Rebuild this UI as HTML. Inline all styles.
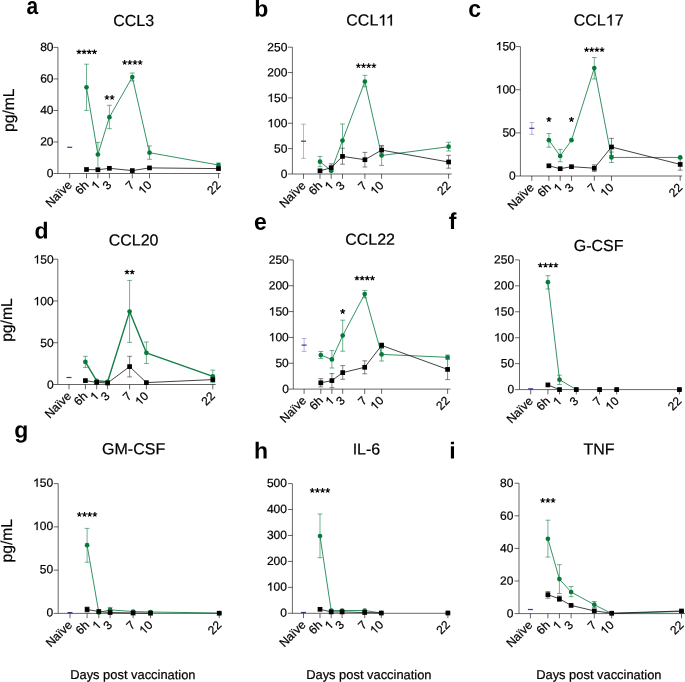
<!DOCTYPE html>
<html><head><meta charset="utf-8"><style>
html,body{margin:0;padding:0;background:#fff;width:685px;height:682px;overflow:hidden}
svg{display:block;font-family:"Liberation Sans",sans-serif;will-change:transform}
text{stroke:#000;stroke-width:0.22px;paint-order:stroke}
text[font-weight]{stroke:none}
.g1{fill:#000;stroke:#000;stroke-width:0.22px}
</style></head><body>
<svg width="685" height="682" viewBox="0 0 685 682">
<rect width="685" height="682" fill="#fff"/>
<line x1="67.20" y1="147.3" x2="72.20" y2="147.3" stroke="#3a3a96" stroke-width="1.2"/>
<path d="M84.10,64.2H88.90M86.5,64.2V110.4M84.10,110.4H88.90" stroke="#127e48" stroke-width="0.6" fill="none"/>
<path d="M95.50,142.4H100.30M97.9,142.4V169.0M95.50,169.0H100.30" stroke="#127e48" stroke-width="0.6" fill="none"/>
<path d="M107.00,105.3H111.80M109.4,105.3V128.7M107.00,128.7H111.80" stroke="#127e48" stroke-width="0.6" fill="none"/>
<path d="M129.90,73.0H134.70M132.3,73.0V80.9M129.90,80.9H134.70" stroke="#127e48" stroke-width="0.6" fill="none"/>
<path d="M147.10,145.9H151.90M149.5,145.9V159.3M147.10,159.3H151.90" stroke="#127e48" stroke-width="0.6" fill="none"/>
<path d="M216.10,163H220.90M218.5,163V167M216.10,167H220.90" stroke="#127e48" stroke-width="0.6" fill="none"/>
<path d="M86.5,87.3L97.9,154.5L109.4,117.2L132.3,77.1L149.5,152.7L218.5,165.0" fill="none" stroke="#127e48" stroke-width="0.85" stroke-linejoin="round"/>
<path d="M86.5,169.5L97.9,169.8L109.4,168.3L132.3,170.6L149.5,167.9L218.5,168.6" fill="none" stroke="#111" stroke-width="0.8" stroke-linejoin="round"/>
<line x1="57.95" y1="47.4" x2="57.95" y2="173.5" stroke="#000" stroke-width="0.6"/>
<line x1="57.95" y1="173.5" x2="220.4" y2="173.5" stroke="#000" stroke-width="0.6"/>
<line x1="53.45" y1="173.5" x2="57.95" y2="173.5" stroke="#000" stroke-width="0.6"/>
<g transform="translate(46.825,177.150) rotate(0.05)"><text x="0.000" y="0" font-size="12">0</text></g>
<line x1="53.45" y1="141.97" x2="57.95" y2="141.97" stroke="#000" stroke-width="0.6"/>
<g transform="translate(40.151,145.620) rotate(0.05)"><text x="0.000" y="0" font-size="12">20</text></g>
<line x1="53.45" y1="110.45" x2="57.95" y2="110.45" stroke="#000" stroke-width="0.6"/>
<g transform="translate(40.151,114.100) rotate(0.05)"><text x="0.000" y="0" font-size="12">40</text></g>
<line x1="53.45" y1="78.93" x2="57.95" y2="78.93" stroke="#000" stroke-width="0.6"/>
<g transform="translate(40.151,82.580) rotate(0.05)"><text x="0.000" y="0" font-size="12">60</text></g>
<line x1="53.45" y1="47.4" x2="57.95" y2="47.4" stroke="#000" stroke-width="0.6"/>
<g transform="translate(40.151,51.050) rotate(0.05)"><text x="0.000" y="0" font-size="12">80</text></g>
<line x1="69.7" y1="173.5" x2="69.7" y2="178.30" stroke="#000" stroke-width="0.6"/>
<g transform="translate(72.600,185.800) rotate(-45)"><text x="-31.348" y="0" font-size="12">Naïve</text></g>
<line x1="86.5" y1="173.5" x2="86.5" y2="178.30" stroke="#000" stroke-width="0.6"/>
<g transform="translate(89.400,185.800) rotate(-45)"><text x="-13.348" y="0" font-size="12">6h</text></g>
<line x1="97.9" y1="173.5" x2="97.9" y2="178.30" stroke="#000" stroke-width="0.6"/>
<g transform="translate(100.800,185.800) rotate(-45)"><path class="g1" d="M-2.203,0.000L-3.258,0.000L-3.258,-6.621C-3.627,-6.270 -4.213,-5.906 -4.740,-5.637C-5.033,-5.490 -5.268,-5.391 -5.473,-5.320L-5.473,-6.328C-4.916,-6.551 -4.418,-6.867 -3.979,-7.254C-3.539,-7.641 -3.217,-7.969 -3.012,-8.256L-2.203,-8.256Z"/></g>
<line x1="109.4" y1="173.5" x2="109.4" y2="178.30" stroke="#000" stroke-width="0.6"/>
<g transform="translate(112.300,185.800) rotate(-45)"><text x="-6.674" y="0" font-size="12">3</text></g>
<line x1="132.3" y1="173.5" x2="132.3" y2="178.30" stroke="#000" stroke-width="0.6"/>
<g transform="translate(135.200,185.800) rotate(-45)"><text x="-6.674" y="0" font-size="12">7</text></g>
<line x1="149.5" y1="173.5" x2="149.5" y2="178.30" stroke="#000" stroke-width="0.6"/>
<g transform="translate(152.400,185.800) rotate(-45)"><path class="g1" d="M-8.877,0.000L-9.932,0.000L-9.932,-6.621C-10.301,-6.270 -10.887,-5.906 -11.414,-5.637C-11.707,-5.490 -11.941,-5.391 -12.146,-5.320L-12.146,-6.328C-11.590,-6.551 -11.092,-6.867 -10.652,-7.254C-10.213,-7.641 -9.891,-7.969 -9.686,-8.256L-8.877,-8.256Z"/><text x="-6.674" y="0" font-size="12">0</text></g>
<line x1="218.5" y1="173.5" x2="218.5" y2="178.30" stroke="#000" stroke-width="0.6"/>
<g transform="translate(221.400,185.800) rotate(-45)"><text x="-13.348" y="0" font-size="12">22</text></g>
<circle cx="86.5" cy="87.3" r="2.35" fill="#067a3a"/>
<circle cx="97.9" cy="154.5" r="2.35" fill="#067a3a"/>
<circle cx="109.4" cy="117.2" r="2.35" fill="#067a3a"/>
<circle cx="132.3" cy="77.1" r="2.35" fill="#067a3a"/>
<circle cx="149.5" cy="152.7" r="2.35" fill="#067a3a"/>
<circle cx="218.5" cy="165.0" r="2.35" fill="#067a3a"/>
<rect x="84.15" y="167.15" width="4.7" height="4.7" fill="#000"/>
<rect x="95.55" y="167.45" width="4.7" height="4.7" fill="#000"/>
<rect x="107.05" y="165.95" width="4.7" height="4.7" fill="#000"/>
<rect x="129.95" y="168.25" width="4.7" height="4.7" fill="#000"/>
<rect x="147.15" y="165.55" width="4.7" height="4.7" fill="#000"/>
<rect x="216.15" y="166.25" width="4.7" height="4.7" fill="#000"/>
<path d="M78.95,51.90L78.95,49.45M78.95,51.90L81.28,51.14M78.95,51.90L80.39,53.88M78.95,51.90L77.50,53.88M78.95,51.90L76.61,51.14" stroke="#000" stroke-width="1.12" stroke-linecap="butt" fill="none"/>
<path d="M84.12,51.90L84.12,49.45M84.12,51.90L86.45,51.14M84.12,51.90L85.56,53.88M84.12,51.90L82.67,53.88M84.12,51.90L81.78,51.14" stroke="#000" stroke-width="1.12" stroke-linecap="butt" fill="none"/>
<path d="M89.29,51.90L89.29,49.45M89.29,51.90L91.62,51.14M89.29,51.90L90.73,53.88M89.29,51.90L87.84,53.88M89.29,51.90L86.95,51.14" stroke="#000" stroke-width="1.12" stroke-linecap="butt" fill="none"/>
<path d="M94.46,51.90L94.46,49.45M94.46,51.90L96.79,51.14M94.46,51.90L95.90,53.88M94.46,51.90L93.01,53.88M94.46,51.90L92.12,51.14" stroke="#000" stroke-width="1.12" stroke-linecap="butt" fill="none"/>
<path d="M106.92,97.50L106.92,95.05M106.92,97.50L109.25,96.74M106.92,97.50L108.36,99.48M106.92,97.50L105.47,99.48M106.92,97.50L104.58,96.74" stroke="#000" stroke-width="1.12" stroke-linecap="butt" fill="none"/>
<path d="M112.09,97.50L112.09,95.05M112.09,97.50L114.42,96.74M112.09,97.50L113.53,99.48M112.09,97.50L110.64,99.48M112.09,97.50L109.75,96.74" stroke="#000" stroke-width="1.12" stroke-linecap="butt" fill="none"/>
<path d="M124.65,62.50L124.65,60.05M124.65,62.50L126.98,61.74M124.65,62.50L126.09,64.48M124.65,62.50L123.20,64.48M124.65,62.50L122.31,61.74" stroke="#000" stroke-width="1.12" stroke-linecap="butt" fill="none"/>
<path d="M129.81,62.50L129.81,60.05M129.81,62.50L132.15,61.74M129.81,62.50L131.26,64.48M129.81,62.50L128.37,64.48M129.81,62.50L127.48,61.74" stroke="#000" stroke-width="1.12" stroke-linecap="butt" fill="none"/>
<path d="M134.99,62.50L134.99,60.05M134.99,62.50L137.32,61.74M134.99,62.50L136.43,64.48M134.99,62.50L133.54,64.48M134.99,62.50L132.65,61.74" stroke="#000" stroke-width="1.12" stroke-linecap="butt" fill="none"/>
<path d="M140.16,62.50L140.16,60.05M140.16,62.50L142.49,61.74M140.16,62.50L141.60,64.48M140.16,62.50L138.71,64.48M140.16,62.50L137.82,61.74" stroke="#000" stroke-width="1.12" stroke-linecap="butt" fill="none"/>
<path d="M301.10,124.2H305.90M303.5,124.2V158.3M301.10,158.3H305.90" stroke="#6a6ab8" stroke-width="0.5" fill="none"/>
<line x1="301.00" y1="141.2" x2="306.00" y2="141.2" stroke="#3a3a96" stroke-width="1.2"/>
<path d="M317.60,156.4H322.40M320.0,156.4V166.7M317.60,166.7H322.40" stroke="#127e48" stroke-width="0.6" fill="none"/>
<path d="M340.10,124H344.90M342.5,124V157M340.10,157H344.90" stroke="#127e48" stroke-width="0.6" fill="none"/>
<path d="M362.50,75.3H367.30M364.9,75.3V86.8M362.50,86.8H367.30" stroke="#127e48" stroke-width="0.6" fill="none"/>
<path d="M379.20,145.5H384.00M381.6,145.5V165.4M379.20,165.4H384.00" stroke="#127e48" stroke-width="0.6" fill="none"/>
<path d="M446.20,142.3H451.00M448.6,142.3V151M446.20,151H451.00" stroke="#127e48" stroke-width="0.6" fill="none"/>
<path d="M320.0,161.7L331.2,170.8L342.5,140.6L364.9,81.5L381.6,155.5L448.6,146.7" fill="none" stroke="#127e48" stroke-width="0.85" stroke-linejoin="round"/>
<path d="M328.80,163.8H333.60M331.2,163.8V171.5M328.80,171.5H333.60" stroke="#333" stroke-width="0.6" fill="none"/>
<path d="M340.10,148.2H344.90M342.5,148.2V164.2M340.10,164.2H344.90" stroke="#333" stroke-width="0.6" fill="none"/>
<path d="M362.50,152.4H367.30M364.9,152.4V167M362.50,167H367.30" stroke="#333" stroke-width="0.6" fill="none"/>
<path d="M379.20,146H384.00M381.6,146V154M379.20,154H384.00" stroke="#333" stroke-width="0.6" fill="none"/>
<path d="M446.20,155.3H451.00M448.6,155.3V168.2M446.20,168.2H451.00" stroke="#333" stroke-width="0.6" fill="none"/>
<path d="M320.0,170.8L331.2,167.7L342.5,156.4L364.9,159.7L381.6,150.1L448.6,162" fill="none" stroke="#111" stroke-width="0.8" stroke-linejoin="round"/>
<line x1="292.4" y1="47.2" x2="292.4" y2="174.0" stroke="#000" stroke-width="0.6"/>
<line x1="292.4" y1="174.0" x2="451.7" y2="174.0" stroke="#000" stroke-width="0.6"/>
<line x1="287.90" y1="174.0" x2="292.4" y2="174.0" stroke="#000" stroke-width="0.6"/>
<g transform="translate(280.715,177.980) rotate(0.05)"><text x="0.000" y="0" font-size="12">0</text></g>
<line x1="287.90" y1="148.64" x2="292.4" y2="148.64" stroke="#000" stroke-width="0.6"/>
<g transform="translate(274.041,152.620) rotate(0.05)"><text x="0.000" y="0" font-size="12">50</text></g>
<line x1="287.90" y1="123.28" x2="292.4" y2="123.28" stroke="#000" stroke-width="0.6"/>
<g transform="translate(267.367,127.260) rotate(0.05)"><path class="g1" d="M4.471,0.000L3.416,0.000L3.416,-6.621C3.047,-6.270 2.461,-5.906 1.934,-5.637C1.641,-5.490 1.406,-5.391 1.201,-5.320L1.201,-6.328C1.758,-6.551 2.256,-6.867 2.695,-7.254C3.135,-7.641 3.457,-7.969 3.662,-8.256L4.471,-8.256Z"/><text x="6.674" y="0" font-size="12">00</text></g>
<line x1="287.90" y1="97.92" x2="292.4" y2="97.92" stroke="#000" stroke-width="0.6"/>
<g transform="translate(267.367,101.900) rotate(0.05)"><path class="g1" d="M4.471,0.000L3.416,0.000L3.416,-6.621C3.047,-6.270 2.461,-5.906 1.934,-5.637C1.641,-5.490 1.406,-5.391 1.201,-5.320L1.201,-6.328C1.758,-6.551 2.256,-6.867 2.695,-7.254C3.135,-7.641 3.457,-7.969 3.662,-8.256L4.471,-8.256Z"/><text x="6.674" y="0" font-size="12">50</text></g>
<line x1="287.90" y1="72.56" x2="292.4" y2="72.56" stroke="#000" stroke-width="0.6"/>
<g transform="translate(267.367,76.540) rotate(0.05)"><text x="0.000" y="0" font-size="12">200</text></g>
<line x1="287.90" y1="47.2" x2="292.4" y2="47.2" stroke="#000" stroke-width="0.6"/>
<g transform="translate(267.367,51.180) rotate(0.05)"><text x="0.000" y="0" font-size="12">250</text></g>
<line x1="303.5" y1="174.0" x2="303.5" y2="178.80" stroke="#000" stroke-width="0.6"/>
<g transform="translate(306.400,186.300) rotate(-45)"><text x="-31.348" y="0" font-size="12">Naïve</text></g>
<line x1="320.0" y1="174.0" x2="320.0" y2="178.80" stroke="#000" stroke-width="0.6"/>
<g transform="translate(322.900,186.300) rotate(-45)"><text x="-13.348" y="0" font-size="12">6h</text></g>
<line x1="331.2" y1="174.0" x2="331.2" y2="178.80" stroke="#000" stroke-width="0.6"/>
<g transform="translate(334.100,186.300) rotate(-45)"><path class="g1" d="M-2.203,0.000L-3.258,0.000L-3.258,-6.621C-3.627,-6.270 -4.213,-5.906 -4.740,-5.637C-5.033,-5.490 -5.268,-5.391 -5.473,-5.320L-5.473,-6.328C-4.916,-6.551 -4.418,-6.867 -3.979,-7.254C-3.539,-7.641 -3.217,-7.969 -3.012,-8.256L-2.203,-8.256Z"/></g>
<line x1="342.5" y1="174.0" x2="342.5" y2="178.80" stroke="#000" stroke-width="0.6"/>
<g transform="translate(345.400,186.300) rotate(-45)"><text x="-6.674" y="0" font-size="12">3</text></g>
<line x1="364.9" y1="174.0" x2="364.9" y2="178.80" stroke="#000" stroke-width="0.6"/>
<g transform="translate(367.800,186.300) rotate(-45)"><text x="-6.674" y="0" font-size="12">7</text></g>
<line x1="381.6" y1="174.0" x2="381.6" y2="178.80" stroke="#000" stroke-width="0.6"/>
<g transform="translate(384.500,186.300) rotate(-45)"><path class="g1" d="M-8.877,0.000L-9.932,0.000L-9.932,-6.621C-10.301,-6.270 -10.887,-5.906 -11.414,-5.637C-11.707,-5.490 -11.941,-5.391 -12.146,-5.320L-12.146,-6.328C-11.590,-6.551 -11.092,-6.867 -10.652,-7.254C-10.213,-7.641 -9.891,-7.969 -9.686,-8.256L-8.877,-8.256Z"/><text x="-6.674" y="0" font-size="12">0</text></g>
<line x1="448.6" y1="174.0" x2="448.6" y2="178.80" stroke="#000" stroke-width="0.6"/>
<g transform="translate(451.500,186.300) rotate(-45)"><text x="-13.348" y="0" font-size="12">22</text></g>
<circle cx="320.0" cy="161.7" r="2.35" fill="#067a3a"/>
<circle cx="331.2" cy="170.8" r="2.35" fill="#067a3a"/>
<circle cx="342.5" cy="140.6" r="2.35" fill="#067a3a"/>
<circle cx="364.9" cy="81.5" r="2.35" fill="#067a3a"/>
<circle cx="381.6" cy="155.5" r="2.35" fill="#067a3a"/>
<circle cx="448.6" cy="146.7" r="2.35" fill="#067a3a"/>
<rect x="317.65" y="168.45" width="4.7" height="4.7" fill="#000"/>
<rect x="328.85" y="165.35" width="4.7" height="4.7" fill="#000"/>
<rect x="340.15" y="154.05" width="4.7" height="4.7" fill="#000"/>
<rect x="362.55" y="157.35" width="4.7" height="4.7" fill="#000"/>
<rect x="379.25" y="147.75" width="4.7" height="4.7" fill="#000"/>
<rect x="446.25" y="159.65" width="4.7" height="4.7" fill="#000"/>
<path d="M358.35,65.80L358.35,63.35M358.35,65.80L360.68,65.04M358.35,65.80L359.79,67.78M358.35,65.80L356.90,67.78M358.35,65.80L356.01,65.04" stroke="#000" stroke-width="1.12" stroke-linecap="butt" fill="none"/>
<path d="M363.52,65.80L363.52,63.35M363.52,65.80L365.85,65.04M363.52,65.80L364.96,67.78M363.52,65.80L362.07,67.78M363.52,65.80L361.18,65.04" stroke="#000" stroke-width="1.12" stroke-linecap="butt" fill="none"/>
<path d="M368.69,65.80L368.69,63.35M368.69,65.80L371.02,65.04M368.69,65.80L370.13,67.78M368.69,65.80L367.24,67.78M368.69,65.80L366.35,65.04" stroke="#000" stroke-width="1.12" stroke-linecap="butt" fill="none"/>
<path d="M373.86,65.80L373.86,63.35M373.86,65.80L376.19,65.04M373.86,65.80L375.30,67.78M373.86,65.80L372.41,67.78M373.86,65.80L371.52,65.04" stroke="#000" stroke-width="1.12" stroke-linecap="butt" fill="none"/>
<path d="M529.40,122.5H534.20M531.8,122.5V134.4M529.40,134.4H534.20" stroke="#6a6ab8" stroke-width="0.5" fill="none"/>
<line x1="529.30" y1="128.3" x2="534.30" y2="128.3" stroke="#3a3a96" stroke-width="1.2"/>
<path d="M546.50,133.6H551.30M548.9,133.6V147.2M546.50,147.2H551.30" stroke="#127e48" stroke-width="0.6" fill="none"/>
<path d="M557.80,149.4H562.60M560.2,149.4V161.7M557.80,161.7H562.60" stroke="#127e48" stroke-width="0.6" fill="none"/>
<path d="M591.90,57.5H596.70M594.3,57.5V79M591.90,79H596.70" stroke="#127e48" stroke-width="0.6" fill="none"/>
<path d="M609.10,152H613.90M611.5,152V162.5M609.10,162.5H613.90" stroke="#127e48" stroke-width="0.6" fill="none"/>
<path d="M548.9,140.2L560.2,156L571.5,140.2L594.3,68.1L611.5,157.45L680.2,157.45" fill="none" stroke="#127e48" stroke-width="0.85" stroke-linejoin="round"/>
<path d="M591.90,164.8H596.70M594.3,164.8V171.4M591.90,171.4H596.70" stroke="#333" stroke-width="0.6" fill="none"/>
<path d="M609.10,138.4H613.90M611.5,138.4V155.6M609.10,155.6H613.90" stroke="#333" stroke-width="0.6" fill="none"/>
<path d="M677.80,158.6H682.60M680.2,158.6V170.2M677.80,170.2H682.60" stroke="#333" stroke-width="0.6" fill="none"/>
<path d="M548.9,165.8L560.2,168.7L571.5,166.7L594.3,168.2L611.5,147L680.2,164.4" fill="none" stroke="#111" stroke-width="0.8" stroke-linejoin="round"/>
<line x1="520.4" y1="46.6" x2="520.4" y2="176.0" stroke="#000" stroke-width="0.6"/>
<line x1="520.4" y1="176.0" x2="682.2" y2="176.0" stroke="#000" stroke-width="0.6"/>
<line x1="515.90" y1="176.0" x2="520.4" y2="176.0" stroke="#000" stroke-width="0.6"/>
<g transform="translate(509.115,179.670) rotate(0.05)"><text x="0.000" y="0" font-size="12">0</text></g>
<line x1="515.90" y1="132.87" x2="520.4" y2="132.87" stroke="#000" stroke-width="0.6"/>
<g transform="translate(502.441,136.540) rotate(0.05)"><text x="0.000" y="0" font-size="12">50</text></g>
<line x1="515.90" y1="89.73" x2="520.4" y2="89.73" stroke="#000" stroke-width="0.6"/>
<g transform="translate(495.767,93.400) rotate(0.05)"><path class="g1" d="M4.471,0.000L3.416,0.000L3.416,-6.621C3.047,-6.270 2.461,-5.906 1.934,-5.637C1.641,-5.490 1.406,-5.391 1.201,-5.320L1.201,-6.328C1.758,-6.551 2.256,-6.867 2.695,-7.254C3.135,-7.641 3.457,-7.969 3.662,-8.256L4.471,-8.256Z"/><text x="6.674" y="0" font-size="12">00</text></g>
<line x1="515.90" y1="46.6" x2="520.4" y2="46.6" stroke="#000" stroke-width="0.6"/>
<g transform="translate(495.767,50.270) rotate(0.05)"><path class="g1" d="M4.471,0.000L3.416,0.000L3.416,-6.621C3.047,-6.270 2.461,-5.906 1.934,-5.637C1.641,-5.490 1.406,-5.391 1.201,-5.320L1.201,-6.328C1.758,-6.551 2.256,-6.867 2.695,-7.254C3.135,-7.641 3.457,-7.969 3.662,-8.256L4.471,-8.256Z"/><text x="6.674" y="0" font-size="12">50</text></g>
<line x1="531.8" y1="176.0" x2="531.8" y2="180.80" stroke="#000" stroke-width="0.6"/>
<g transform="translate(534.700,188.300) rotate(-45)"><text x="-31.348" y="0" font-size="12">Naïve</text></g>
<line x1="548.9" y1="176.0" x2="548.9" y2="180.80" stroke="#000" stroke-width="0.6"/>
<g transform="translate(551.800,188.300) rotate(-45)"><text x="-13.348" y="0" font-size="12">6h</text></g>
<line x1="560.2" y1="176.0" x2="560.2" y2="180.80" stroke="#000" stroke-width="0.6"/>
<g transform="translate(563.100,188.300) rotate(-45)"><path class="g1" d="M-2.203,0.000L-3.258,0.000L-3.258,-6.621C-3.627,-6.270 -4.213,-5.906 -4.740,-5.637C-5.033,-5.490 -5.268,-5.391 -5.473,-5.320L-5.473,-6.328C-4.916,-6.551 -4.418,-6.867 -3.979,-7.254C-3.539,-7.641 -3.217,-7.969 -3.012,-8.256L-2.203,-8.256Z"/></g>
<line x1="571.5" y1="176.0" x2="571.5" y2="180.80" stroke="#000" stroke-width="0.6"/>
<g transform="translate(574.400,188.300) rotate(-45)"><text x="-6.674" y="0" font-size="12">3</text></g>
<line x1="594.3" y1="176.0" x2="594.3" y2="180.80" stroke="#000" stroke-width="0.6"/>
<g transform="translate(597.200,188.300) rotate(-45)"><text x="-6.674" y="0" font-size="12">7</text></g>
<line x1="611.5" y1="176.0" x2="611.5" y2="180.80" stroke="#000" stroke-width="0.6"/>
<g transform="translate(614.400,188.300) rotate(-45)"><path class="g1" d="M-8.877,0.000L-9.932,0.000L-9.932,-6.621C-10.301,-6.270 -10.887,-5.906 -11.414,-5.637C-11.707,-5.490 -11.941,-5.391 -12.146,-5.320L-12.146,-6.328C-11.590,-6.551 -11.092,-6.867 -10.652,-7.254C-10.213,-7.641 -9.891,-7.969 -9.686,-8.256L-8.877,-8.256Z"/><text x="-6.674" y="0" font-size="12">0</text></g>
<line x1="680.2" y1="176.0" x2="680.2" y2="180.80" stroke="#000" stroke-width="0.6"/>
<g transform="translate(683.100,188.300) rotate(-45)"><text x="-13.348" y="0" font-size="12">22</text></g>
<circle cx="548.9" cy="140.2" r="2.35" fill="#067a3a"/>
<circle cx="560.2" cy="156" r="2.35" fill="#067a3a"/>
<circle cx="571.5" cy="140.2" r="2.35" fill="#067a3a"/>
<circle cx="594.3" cy="68.1" r="2.35" fill="#067a3a"/>
<circle cx="611.5" cy="157.45" r="2.35" fill="#067a3a"/>
<circle cx="680.2" cy="157.45" r="2.35" fill="#067a3a"/>
<rect x="546.55" y="163.45" width="4.7" height="4.7" fill="#000"/>
<rect x="557.85" y="166.35" width="4.7" height="4.7" fill="#000"/>
<rect x="569.15" y="164.35" width="4.7" height="4.7" fill="#000"/>
<rect x="591.95" y="165.85" width="4.7" height="4.7" fill="#000"/>
<rect x="609.15" y="144.65" width="4.7" height="4.7" fill="#000"/>
<rect x="677.85" y="162.05" width="4.7" height="4.7" fill="#000"/>
<path d="M548.90,119.50L548.90,116.95M548.90,119.50L551.33,118.71M548.90,119.50L550.40,121.56M548.90,119.50L547.40,121.56M548.90,119.50L546.47,118.71" stroke="#000" stroke-width="1.25" stroke-linecap="butt" fill="none"/>
<path d="M571.50,119.50L571.50,116.95M571.50,119.50L573.93,118.71M571.50,119.50L573.00,121.56M571.50,119.50L570.00,121.56M571.50,119.50L569.07,118.71" stroke="#000" stroke-width="1.25" stroke-linecap="butt" fill="none"/>
<path d="M586.54,49.70L586.54,47.25M586.54,49.70L588.88,48.94M586.54,49.70L587.99,51.68M586.54,49.70L585.10,51.68M586.54,49.70L584.21,48.94" stroke="#000" stroke-width="1.12" stroke-linecap="butt" fill="none"/>
<path d="M591.71,49.70L591.71,47.25M591.71,49.70L594.05,48.94M591.71,49.70L593.16,51.68M591.71,49.70L590.27,51.68M591.71,49.70L589.38,48.94" stroke="#000" stroke-width="1.12" stroke-linecap="butt" fill="none"/>
<path d="M596.88,49.70L596.88,47.25M596.88,49.70L599.22,48.94M596.88,49.70L598.33,51.68M596.88,49.70L595.44,51.68M596.88,49.70L594.55,48.94" stroke="#000" stroke-width="1.12" stroke-linecap="butt" fill="none"/>
<path d="M602.05,49.70L602.05,47.25M602.05,49.70L604.39,48.94M602.05,49.70L603.50,51.68M602.05,49.70L600.61,51.68M602.05,49.70L599.72,48.94" stroke="#000" stroke-width="1.12" stroke-linecap="butt" fill="none"/>
<line x1="66.50" y1="377.5" x2="71.50" y2="377.5" stroke="#3a3a96" stroke-width="1.2"/>
<path d="M83.00,356.3H87.80M85.4,356.3V367.4M83.00,367.4H87.80" stroke="#127e48" stroke-width="0.6" fill="none"/>
<path d="M127.20,280.4H132.00M129.6,280.4V342.4M127.20,342.4H132.00" stroke="#127e48" stroke-width="0.6" fill="none"/>
<path d="M144.00,342H148.80M146.4,342V363.5M144.00,363.5H148.80" stroke="#127e48" stroke-width="0.6" fill="none"/>
<path d="M210.40,370.1H215.20M212.8,370.1V382.7M210.40,382.7H215.20" stroke="#127e48" stroke-width="0.6" fill="none"/>
<path d="M85.4,361.9L96.7,380.8L107.6,381.8L129.6,311.6L146.4,352.8L212.8,376.4" fill="none" stroke="#127e48" stroke-width="1.4" stroke-linejoin="round"/>
<path d="M127.20,356.3H132.00M129.6,356.3V376.9M127.20,376.9H132.00" stroke="#333" stroke-width="0.6" fill="none"/>
<path d="M85.4,380.6L96.7,382.4L107.6,383.0L129.6,366.6L146.4,382.6L212.8,379.6" fill="none" stroke="#111" stroke-width="0.8" stroke-linejoin="round"/>
<line x1="57.8" y1="259.2" x2="57.8" y2="384.5" stroke="#000" stroke-width="0.6"/>
<line x1="57.8" y1="384.5" x2="215.7" y2="384.5" stroke="#000" stroke-width="0.6"/>
<line x1="53.30" y1="384.5" x2="57.8" y2="384.5" stroke="#000" stroke-width="0.6"/>
<g transform="translate(46.915,388.730) rotate(0.05)"><text x="0.000" y="0" font-size="12">0</text></g>
<line x1="53.30" y1="342.73" x2="57.8" y2="342.73" stroke="#000" stroke-width="0.6"/>
<g transform="translate(40.241,346.960) rotate(0.05)"><text x="0.000" y="0" font-size="12">50</text></g>
<line x1="53.30" y1="300.97" x2="57.8" y2="300.97" stroke="#000" stroke-width="0.6"/>
<g transform="translate(33.567,305.200) rotate(0.05)"><path class="g1" d="M4.471,0.000L3.416,0.000L3.416,-6.621C3.047,-6.270 2.461,-5.906 1.934,-5.637C1.641,-5.490 1.406,-5.391 1.201,-5.320L1.201,-6.328C1.758,-6.551 2.256,-6.867 2.695,-7.254C3.135,-7.641 3.457,-7.969 3.662,-8.256L4.471,-8.256Z"/><text x="6.674" y="0" font-size="12">00</text></g>
<line x1="53.30" y1="259.2" x2="57.8" y2="259.2" stroke="#000" stroke-width="0.6"/>
<g transform="translate(33.567,263.430) rotate(0.05)"><path class="g1" d="M4.471,0.000L3.416,0.000L3.416,-6.621C3.047,-6.270 2.461,-5.906 1.934,-5.637C1.641,-5.490 1.406,-5.391 1.201,-5.320L1.201,-6.328C1.758,-6.551 2.256,-6.867 2.695,-7.254C3.135,-7.641 3.457,-7.969 3.662,-8.256L4.471,-8.256Z"/><text x="6.674" y="0" font-size="12">50</text></g>
<line x1="69.0" y1="384.5" x2="69.0" y2="389.30" stroke="#000" stroke-width="0.6"/>
<g transform="translate(71.900,396.800) rotate(-45)"><text x="-31.348" y="0" font-size="12">Naïve</text></g>
<line x1="85.4" y1="384.5" x2="85.4" y2="389.30" stroke="#000" stroke-width="0.6"/>
<g transform="translate(88.300,396.800) rotate(-45)"><text x="-13.348" y="0" font-size="12">6h</text></g>
<line x1="96.7" y1="384.5" x2="96.7" y2="389.30" stroke="#000" stroke-width="0.6"/>
<g transform="translate(99.600,396.800) rotate(-45)"><path class="g1" d="M-2.203,0.000L-3.258,0.000L-3.258,-6.621C-3.627,-6.270 -4.213,-5.906 -4.740,-5.637C-5.033,-5.490 -5.268,-5.391 -5.473,-5.320L-5.473,-6.328C-4.916,-6.551 -4.418,-6.867 -3.979,-7.254C-3.539,-7.641 -3.217,-7.969 -3.012,-8.256L-2.203,-8.256Z"/></g>
<line x1="107.6" y1="384.5" x2="107.6" y2="389.30" stroke="#000" stroke-width="0.6"/>
<g transform="translate(110.500,396.800) rotate(-45)"><text x="-6.674" y="0" font-size="12">3</text></g>
<line x1="129.6" y1="384.5" x2="129.6" y2="389.30" stroke="#000" stroke-width="0.6"/>
<g transform="translate(132.500,396.800) rotate(-45)"><text x="-6.674" y="0" font-size="12">7</text></g>
<line x1="146.4" y1="384.5" x2="146.4" y2="389.30" stroke="#000" stroke-width="0.6"/>
<g transform="translate(149.300,396.800) rotate(-45)"><path class="g1" d="M-8.877,0.000L-9.932,0.000L-9.932,-6.621C-10.301,-6.270 -10.887,-5.906 -11.414,-5.637C-11.707,-5.490 -11.941,-5.391 -12.146,-5.320L-12.146,-6.328C-11.590,-6.551 -11.092,-6.867 -10.652,-7.254C-10.213,-7.641 -9.891,-7.969 -9.686,-8.256L-8.877,-8.256Z"/><text x="-6.674" y="0" font-size="12">0</text></g>
<line x1="212.8" y1="384.5" x2="212.8" y2="389.30" stroke="#000" stroke-width="0.6"/>
<g transform="translate(215.700,396.800) rotate(-45)"><text x="-13.348" y="0" font-size="12">22</text></g>
<circle cx="85.4" cy="361.9" r="2.35" fill="#067a3a"/>
<circle cx="96.7" cy="380.8" r="2.35" fill="#067a3a"/>
<circle cx="107.6" cy="381.8" r="2.35" fill="#067a3a"/>
<circle cx="129.6" cy="311.6" r="2.35" fill="#067a3a"/>
<circle cx="146.4" cy="352.8" r="2.35" fill="#067a3a"/>
<circle cx="212.8" cy="376.4" r="2.35" fill="#067a3a"/>
<rect x="83.05" y="378.25" width="4.7" height="4.7" fill="#000"/>
<rect x="94.35" y="380.05" width="4.7" height="4.7" fill="#000"/>
<rect x="105.25" y="380.65" width="4.7" height="4.7" fill="#000"/>
<rect x="127.25" y="364.25" width="4.7" height="4.7" fill="#000"/>
<rect x="144.05" y="380.25" width="4.7" height="4.7" fill="#000"/>
<rect x="210.45" y="377.25" width="4.7" height="4.7" fill="#000"/>
<path d="M127.02,272.10L127.02,269.65M127.02,272.10L129.35,271.34M127.02,272.10L128.46,274.08M127.02,272.10L125.57,274.08M127.02,272.10L124.68,271.34" stroke="#000" stroke-width="1.12" stroke-linecap="butt" fill="none"/>
<path d="M132.19,272.10L132.19,269.65M132.19,272.10L134.52,271.34M132.19,272.10L133.63,274.08M132.19,272.10L130.74,274.08M132.19,272.10L129.85,271.34" stroke="#000" stroke-width="1.12" stroke-linecap="butt" fill="none"/>
<path d="M301.70,338.5H306.50M304.1,338.5V351.4M301.70,351.4H306.50" stroke="#6a6ab8" stroke-width="0.5" fill="none"/>
<line x1="301.60" y1="345.1" x2="306.60" y2="345.1" stroke="#3a3a96" stroke-width="1.2"/>
<path d="M318.40,351.5H323.20M320.8,351.5V358.5M318.40,358.5H323.20" stroke="#127e48" stroke-width="0.6" fill="none"/>
<path d="M329.50,350.6H334.30M331.9,350.6V368M329.50,368H334.30" stroke="#127e48" stroke-width="0.6" fill="none"/>
<path d="M340.30,320.2H345.10M342.7,320.2V351.2M340.30,351.2H345.10" stroke="#127e48" stroke-width="0.6" fill="none"/>
<path d="M362.30,290.4H367.10M364.7,290.4V297.8M362.30,297.8H367.10" stroke="#127e48" stroke-width="0.6" fill="none"/>
<path d="M379.20,348H384.00M381.6,348V361M379.20,361H384.00" stroke="#127e48" stroke-width="0.6" fill="none"/>
<path d="M445.20,355H450.00M447.6,355V359.5M445.20,359.5H450.00" stroke="#127e48" stroke-width="0.6" fill="none"/>
<path d="M320.8,355.1L331.9,359.4L342.7,335.6L364.7,294.1L381.6,354.4L447.6,357.3" fill="none" stroke="#127e48" stroke-width="0.85" stroke-linejoin="round"/>
<path d="M318.40,378.7H323.20M320.8,378.7V386.9M318.40,386.9H323.20" stroke="#333" stroke-width="0.6" fill="none"/>
<path d="M329.50,373.6H334.30M331.9,373.6V387.6M329.50,387.6H334.30" stroke="#333" stroke-width="0.6" fill="none"/>
<path d="M340.30,365.6H345.10M342.7,365.6V379.3M340.30,379.3H345.10" stroke="#333" stroke-width="0.6" fill="none"/>
<path d="M362.30,360.8H367.10M364.7,360.8V373.8M362.30,373.8H367.10" stroke="#333" stroke-width="0.6" fill="none"/>
<path d="M379.20,343H384.00M381.6,343V348M379.20,348H384.00" stroke="#333" stroke-width="0.6" fill="none"/>
<path d="M445.20,357.7H450.00M447.6,357.7V379.6M445.20,379.6H450.00" stroke="#333" stroke-width="0.6" fill="none"/>
<path d="M320.8,382.8L331.9,380.6L342.7,372.6L364.7,367.3L381.6,345.4L447.6,369.4" fill="none" stroke="#111" stroke-width="0.8" stroke-linejoin="round"/>
<line x1="293.3" y1="259.9" x2="293.3" y2="389.1" stroke="#000" stroke-width="0.6"/>
<line x1="293.3" y1="389.1" x2="450.5" y2="389.1" stroke="#000" stroke-width="0.6"/>
<line x1="288.80" y1="389.1" x2="293.3" y2="389.1" stroke="#000" stroke-width="0.6"/>
<g transform="translate(282.125,392.900) rotate(0.05)"><text x="0.000" y="0" font-size="12">0</text></g>
<line x1="288.80" y1="363.26" x2="293.3" y2="363.26" stroke="#000" stroke-width="0.6"/>
<g transform="translate(275.451,367.060) rotate(0.05)"><text x="0.000" y="0" font-size="12">50</text></g>
<line x1="288.80" y1="337.42" x2="293.3" y2="337.42" stroke="#000" stroke-width="0.6"/>
<g transform="translate(268.777,341.220) rotate(0.05)"><path class="g1" d="M4.471,0.000L3.416,0.000L3.416,-6.621C3.047,-6.270 2.461,-5.906 1.934,-5.637C1.641,-5.490 1.406,-5.391 1.201,-5.320L1.201,-6.328C1.758,-6.551 2.256,-6.867 2.695,-7.254C3.135,-7.641 3.457,-7.969 3.662,-8.256L4.471,-8.256Z"/><text x="6.674" y="0" font-size="12">00</text></g>
<line x1="288.80" y1="311.58" x2="293.3" y2="311.58" stroke="#000" stroke-width="0.6"/>
<g transform="translate(268.777,315.380) rotate(0.05)"><path class="g1" d="M4.471,0.000L3.416,0.000L3.416,-6.621C3.047,-6.270 2.461,-5.906 1.934,-5.637C1.641,-5.490 1.406,-5.391 1.201,-5.320L1.201,-6.328C1.758,-6.551 2.256,-6.867 2.695,-7.254C3.135,-7.641 3.457,-7.969 3.662,-8.256L4.471,-8.256Z"/><text x="6.674" y="0" font-size="12">50</text></g>
<line x1="288.80" y1="285.74" x2="293.3" y2="285.74" stroke="#000" stroke-width="0.6"/>
<g transform="translate(268.777,289.540) rotate(0.05)"><text x="0.000" y="0" font-size="12">200</text></g>
<line x1="288.80" y1="259.9" x2="293.3" y2="259.9" stroke="#000" stroke-width="0.6"/>
<g transform="translate(268.777,263.700) rotate(0.05)"><text x="0.000" y="0" font-size="12">250</text></g>
<line x1="304.1" y1="389.1" x2="304.1" y2="393.90" stroke="#000" stroke-width="0.6"/>
<g transform="translate(307.000,401.400) rotate(-45)"><text x="-31.348" y="0" font-size="12">Naïve</text></g>
<line x1="320.8" y1="389.1" x2="320.8" y2="393.90" stroke="#000" stroke-width="0.6"/>
<g transform="translate(323.700,401.400) rotate(-45)"><text x="-13.348" y="0" font-size="12">6h</text></g>
<line x1="331.9" y1="389.1" x2="331.9" y2="393.90" stroke="#000" stroke-width="0.6"/>
<g transform="translate(334.800,401.400) rotate(-45)"><path class="g1" d="M-2.203,0.000L-3.258,0.000L-3.258,-6.621C-3.627,-6.270 -4.213,-5.906 -4.740,-5.637C-5.033,-5.490 -5.268,-5.391 -5.473,-5.320L-5.473,-6.328C-4.916,-6.551 -4.418,-6.867 -3.979,-7.254C-3.539,-7.641 -3.217,-7.969 -3.012,-8.256L-2.203,-8.256Z"/></g>
<line x1="342.7" y1="389.1" x2="342.7" y2="393.90" stroke="#000" stroke-width="0.6"/>
<g transform="translate(345.600,401.400) rotate(-45)"><text x="-6.674" y="0" font-size="12">3</text></g>
<line x1="364.7" y1="389.1" x2="364.7" y2="393.90" stroke="#000" stroke-width="0.6"/>
<g transform="translate(367.600,401.400) rotate(-45)"><text x="-6.674" y="0" font-size="12">7</text></g>
<line x1="381.6" y1="389.1" x2="381.6" y2="393.90" stroke="#000" stroke-width="0.6"/>
<g transform="translate(384.500,401.400) rotate(-45)"><path class="g1" d="M-8.877,0.000L-9.932,0.000L-9.932,-6.621C-10.301,-6.270 -10.887,-5.906 -11.414,-5.637C-11.707,-5.490 -11.941,-5.391 -12.146,-5.320L-12.146,-6.328C-11.590,-6.551 -11.092,-6.867 -10.652,-7.254C-10.213,-7.641 -9.891,-7.969 -9.686,-8.256L-8.877,-8.256Z"/><text x="-6.674" y="0" font-size="12">0</text></g>
<line x1="447.6" y1="389.1" x2="447.6" y2="393.90" stroke="#000" stroke-width="0.6"/>
<g transform="translate(450.500,401.400) rotate(-45)"><text x="-13.348" y="0" font-size="12">22</text></g>
<circle cx="320.8" cy="355.1" r="2.35" fill="#067a3a"/>
<circle cx="331.9" cy="359.4" r="2.35" fill="#067a3a"/>
<circle cx="342.7" cy="335.6" r="2.35" fill="#067a3a"/>
<circle cx="364.7" cy="294.1" r="2.35" fill="#067a3a"/>
<circle cx="381.6" cy="354.4" r="2.35" fill="#067a3a"/>
<circle cx="447.6" cy="357.3" r="2.35" fill="#067a3a"/>
<rect x="318.45" y="380.45" width="4.7" height="4.7" fill="#000"/>
<rect x="329.55" y="378.25" width="4.7" height="4.7" fill="#000"/>
<rect x="340.35" y="370.25" width="4.7" height="4.7" fill="#000"/>
<rect x="362.35" y="364.95" width="4.7" height="4.7" fill="#000"/>
<rect x="379.25" y="343.05" width="4.7" height="4.7" fill="#000"/>
<rect x="445.25" y="367.05" width="4.7" height="4.7" fill="#000"/>
<path d="M342.70,311.50L342.70,308.95M342.70,311.50L345.13,310.71M342.70,311.50L344.20,313.56M342.70,311.50L341.20,313.56M342.70,311.50L340.27,310.71" stroke="#000" stroke-width="1.25" stroke-linecap="butt" fill="none"/>
<path d="M356.94,278.20L356.94,275.75M356.94,278.20L359.28,277.44M356.94,278.20L358.39,280.18M356.94,278.20L355.50,280.18M356.94,278.20L354.61,277.44" stroke="#000" stroke-width="1.12" stroke-linecap="butt" fill="none"/>
<path d="M362.12,278.20L362.12,275.75M362.12,278.20L364.45,277.44M362.12,278.20L363.56,280.18M362.12,278.20L360.67,280.18M362.12,278.20L359.78,277.44" stroke="#000" stroke-width="1.12" stroke-linecap="butt" fill="none"/>
<path d="M367.28,278.20L367.28,275.75M367.28,278.20L369.62,277.44M367.28,278.20L368.73,280.18M367.28,278.20L365.84,280.18M367.28,278.20L364.95,277.44" stroke="#000" stroke-width="1.12" stroke-linecap="butt" fill="none"/>
<path d="M372.45,278.20L372.45,275.75M372.45,278.20L374.79,277.44M372.45,278.20L373.90,280.18M372.45,278.20L371.01,280.18M372.45,278.20L370.12,277.44" stroke="#000" stroke-width="1.12" stroke-linecap="butt" fill="none"/>
<line x1="528.20" y1="388.8" x2="533.20" y2="388.8" stroke="#3a3a96" stroke-width="1.2"/>
<path d="M545.50,275.7H550.30M547.9,275.7V289M545.50,289H550.30" stroke="#127e48" stroke-width="0.6" fill="none"/>
<path d="M557.10,375.2H561.90M559.5,375.2V384.5M557.10,384.5H561.90" stroke="#127e48" stroke-width="0.6" fill="none"/>
<path d="M547.9,282.2L559.5,379.7L576.3,389.6" fill="none" stroke="#127e48" stroke-width="0.85" stroke-linejoin="round"/>
<path d="M547.9,384.9L559.5,389.6" fill="none" stroke="#111" stroke-width="0.8" stroke-linejoin="round"/>
<line x1="519.5" y1="259.9" x2="519.5" y2="389.6" stroke="#000" stroke-width="0.6"/>
<line x1="519.5" y1="389.6" x2="682.0" y2="389.6" stroke="#000" stroke-width="0.6"/>
<line x1="515.00" y1="389.6" x2="519.5" y2="389.6" stroke="#000" stroke-width="0.6"/>
<g transform="translate(507.435,393.280) rotate(0.05)"><text x="0.000" y="0" font-size="12">0</text></g>
<line x1="515.00" y1="363.66" x2="519.5" y2="363.66" stroke="#000" stroke-width="0.6"/>
<g transform="translate(500.761,367.340) rotate(0.05)"><text x="0.000" y="0" font-size="12">50</text></g>
<line x1="515.00" y1="337.72" x2="519.5" y2="337.72" stroke="#000" stroke-width="0.6"/>
<g transform="translate(494.087,341.400) rotate(0.05)"><path class="g1" d="M4.471,0.000L3.416,0.000L3.416,-6.621C3.047,-6.270 2.461,-5.906 1.934,-5.637C1.641,-5.490 1.406,-5.391 1.201,-5.320L1.201,-6.328C1.758,-6.551 2.256,-6.867 2.695,-7.254C3.135,-7.641 3.457,-7.969 3.662,-8.256L4.471,-8.256Z"/><text x="6.674" y="0" font-size="12">00</text></g>
<line x1="515.00" y1="311.78" x2="519.5" y2="311.78" stroke="#000" stroke-width="0.6"/>
<g transform="translate(494.087,315.460) rotate(0.05)"><path class="g1" d="M4.471,0.000L3.416,0.000L3.416,-6.621C3.047,-6.270 2.461,-5.906 1.934,-5.637C1.641,-5.490 1.406,-5.391 1.201,-5.320L1.201,-6.328C1.758,-6.551 2.256,-6.867 2.695,-7.254C3.135,-7.641 3.457,-7.969 3.662,-8.256L4.471,-8.256Z"/><text x="6.674" y="0" font-size="12">50</text></g>
<line x1="515.00" y1="285.84" x2="519.5" y2="285.84" stroke="#000" stroke-width="0.6"/>
<g transform="translate(494.087,289.520) rotate(0.05)"><text x="0.000" y="0" font-size="12">200</text></g>
<line x1="515.00" y1="259.9" x2="519.5" y2="259.9" stroke="#000" stroke-width="0.6"/>
<g transform="translate(494.087,263.580) rotate(0.05)"><text x="0.000" y="0" font-size="12">250</text></g>
<line x1="530.7" y1="389.6" x2="530.7" y2="394.40" stroke="#000" stroke-width="0.6"/>
<g transform="translate(533.600,401.900) rotate(-45)"><text x="-31.348" y="0" font-size="12">Naïve</text></g>
<line x1="547.9" y1="389.6" x2="547.9" y2="394.40" stroke="#000" stroke-width="0.6"/>
<g transform="translate(550.800,401.900) rotate(-45)"><text x="-13.348" y="0" font-size="12">6h</text></g>
<line x1="559.5" y1="389.6" x2="559.5" y2="394.40" stroke="#000" stroke-width="0.6"/>
<g transform="translate(562.400,401.900) rotate(-45)"><path class="g1" d="M-2.203,0.000L-3.258,0.000L-3.258,-6.621C-3.627,-6.270 -4.213,-5.906 -4.740,-5.637C-5.033,-5.490 -5.268,-5.391 -5.473,-5.320L-5.473,-6.328C-4.916,-6.551 -4.418,-6.867 -3.979,-7.254C-3.539,-7.641 -3.217,-7.969 -3.012,-8.256L-2.203,-8.256Z"/></g>
<line x1="576.3" y1="389.6" x2="576.3" y2="394.40" stroke="#000" stroke-width="0.6"/>
<g transform="translate(579.200,401.900) rotate(-45)"><text x="-6.674" y="0" font-size="12">3</text></g>
<line x1="599.6" y1="389.6" x2="599.6" y2="394.40" stroke="#000" stroke-width="0.6"/>
<g transform="translate(602.500,401.900) rotate(-45)"><text x="-6.674" y="0" font-size="12">7</text></g>
<line x1="616.7" y1="389.6" x2="616.7" y2="394.40" stroke="#000" stroke-width="0.6"/>
<g transform="translate(619.600,401.900) rotate(-45)"><path class="g1" d="M-8.877,0.000L-9.932,0.000L-9.932,-6.621C-10.301,-6.270 -10.887,-5.906 -11.414,-5.637C-11.707,-5.490 -11.941,-5.391 -12.146,-5.320L-12.146,-6.328C-11.590,-6.551 -11.092,-6.867 -10.652,-7.254C-10.213,-7.641 -9.891,-7.969 -9.686,-8.256L-8.877,-8.256Z"/><text x="-6.674" y="0" font-size="12">0</text></g>
<line x1="679.4" y1="389.6" x2="679.4" y2="394.40" stroke="#000" stroke-width="0.6"/>
<g transform="translate(682.300,401.900) rotate(-45)"><text x="-13.348" y="0" font-size="12">22</text></g>
<circle cx="547.9" cy="282.2" r="2.35" fill="#067a3a"/>
<circle cx="559.5" cy="379.7" r="2.35" fill="#067a3a"/>
<circle cx="576.3" cy="389.6" r="2.35" fill="#067a3a"/>
<circle cx="599.6" cy="389.6" r="2.35" fill="#067a3a"/>
<circle cx="616.7" cy="389.6" r="2.35" fill="#067a3a"/>
<circle cx="679.4" cy="389.6" r="2.35" fill="#067a3a"/>
<rect x="545.55" y="382.55" width="4.7" height="4.7" fill="#000"/>
<rect x="557.15" y="387.25" width="4.7" height="4.7" fill="#000"/>
<rect x="573.95" y="387.25" width="4.7" height="4.7" fill="#000"/>
<rect x="597.25" y="387.25" width="4.7" height="4.7" fill="#000"/>
<rect x="614.35" y="387.25" width="4.7" height="4.7" fill="#000"/>
<rect x="677.05" y="387.25" width="4.7" height="4.7" fill="#000"/>
<path d="M540.35,265.30L540.35,262.85M540.35,265.30L542.68,264.54M540.35,265.30L541.79,267.28M540.35,265.30L538.90,267.28M540.35,265.30L538.01,264.54" stroke="#000" stroke-width="1.12" stroke-linecap="butt" fill="none"/>
<path d="M545.51,265.30L545.51,262.85M545.51,265.30L547.85,264.54M545.51,265.30L546.96,267.28M545.51,265.30L544.07,267.28M545.51,265.30L543.18,264.54" stroke="#000" stroke-width="1.12" stroke-linecap="butt" fill="none"/>
<path d="M550.69,265.30L550.69,262.85M550.69,265.30L553.02,264.54M550.69,265.30L552.13,267.28M550.69,265.30L549.24,267.28M550.69,265.30L548.35,264.54" stroke="#000" stroke-width="1.12" stroke-linecap="butt" fill="none"/>
<path d="M555.86,265.30L555.86,262.85M555.86,265.30L558.19,264.54M555.86,265.30L557.30,267.28M555.86,265.30L554.41,267.28M555.86,265.30L553.52,264.54" stroke="#000" stroke-width="1.12" stroke-linecap="butt" fill="none"/>
<line x1="67.50" y1="612.6" x2="72.50" y2="612.6" stroke="#3a3a96" stroke-width="1.2"/>
<path d="M84.70,528.4H89.50M87.1,528.4V562.2M84.70,562.2H89.50" stroke="#127e48" stroke-width="0.6" fill="none"/>
<path d="M107.70,607.4H112.50M110.1,607.4V612.4M107.70,612.4H112.50" stroke="#127e48" stroke-width="0.6" fill="none"/>
<path d="M87.1,545.2L98.8,612.5L110.1,609.9L133.1,611.5L150.5,612L219.2,613" fill="none" stroke="#127e48" stroke-width="0.85" stroke-linejoin="round"/>
<path d="M84.70,607H89.50M87.1,607V612M84.70,612H89.50" stroke="#333" stroke-width="0.6" fill="none"/>
<path d="M87.1,609.5L98.8,611.5L110.1,612.5L133.1,613L150.5,613.2" fill="none" stroke="#111" stroke-width="0.8" stroke-linejoin="round"/>
<line x1="58.2" y1="483.6" x2="58.2" y2="613.4" stroke="#000" stroke-width="0.6"/>
<line x1="58.2" y1="613.4" x2="221.7" y2="613.4" stroke="#000" stroke-width="0.6"/>
<line x1="53.70" y1="613.4" x2="58.2" y2="613.4" stroke="#000" stroke-width="0.6"/>
<g transform="translate(46.515,616.600) rotate(0.05)"><text x="0.000" y="0" font-size="12">0</text></g>
<line x1="53.70" y1="570.13" x2="58.2" y2="570.13" stroke="#000" stroke-width="0.6"/>
<g transform="translate(39.841,573.330) rotate(0.05)"><text x="0.000" y="0" font-size="12">50</text></g>
<line x1="53.70" y1="526.87" x2="58.2" y2="526.87" stroke="#000" stroke-width="0.6"/>
<g transform="translate(33.167,530.070) rotate(0.05)"><path class="g1" d="M4.471,0.000L3.416,0.000L3.416,-6.621C3.047,-6.270 2.461,-5.906 1.934,-5.637C1.641,-5.490 1.406,-5.391 1.201,-5.320L1.201,-6.328C1.758,-6.551 2.256,-6.867 2.695,-7.254C3.135,-7.641 3.457,-7.969 3.662,-8.256L4.471,-8.256Z"/><text x="6.674" y="0" font-size="12">00</text></g>
<line x1="53.70" y1="483.6" x2="58.2" y2="483.6" stroke="#000" stroke-width="0.6"/>
<g transform="translate(33.167,486.800) rotate(0.05)"><path class="g1" d="M4.471,0.000L3.416,0.000L3.416,-6.621C3.047,-6.270 2.461,-5.906 1.934,-5.637C1.641,-5.490 1.406,-5.391 1.201,-5.320L1.201,-6.328C1.758,-6.551 2.256,-6.867 2.695,-7.254C3.135,-7.641 3.457,-7.969 3.662,-8.256L4.471,-8.256Z"/><text x="6.674" y="0" font-size="12">50</text></g>
<line x1="70.0" y1="613.4" x2="70.0" y2="618.20" stroke="#000" stroke-width="0.6"/>
<g transform="translate(72.900,625.700) rotate(-45)"><text x="-31.348" y="0" font-size="12">Naïve</text></g>
<line x1="87.1" y1="613.4" x2="87.1" y2="618.20" stroke="#000" stroke-width="0.6"/>
<g transform="translate(90.000,625.700) rotate(-45)"><text x="-13.348" y="0" font-size="12">6h</text></g>
<line x1="98.8" y1="613.4" x2="98.8" y2="618.20" stroke="#000" stroke-width="0.6"/>
<g transform="translate(101.700,625.700) rotate(-45)"><path class="g1" d="M-2.203,0.000L-3.258,0.000L-3.258,-6.621C-3.627,-6.270 -4.213,-5.906 -4.740,-5.637C-5.033,-5.490 -5.268,-5.391 -5.473,-5.320L-5.473,-6.328C-4.916,-6.551 -4.418,-6.867 -3.979,-7.254C-3.539,-7.641 -3.217,-7.969 -3.012,-8.256L-2.203,-8.256Z"/></g>
<line x1="110.1" y1="613.4" x2="110.1" y2="618.20" stroke="#000" stroke-width="0.6"/>
<g transform="translate(113.000,625.700) rotate(-45)"><text x="-6.674" y="0" font-size="12">3</text></g>
<line x1="133.1" y1="613.4" x2="133.1" y2="618.20" stroke="#000" stroke-width="0.6"/>
<g transform="translate(136.000,625.700) rotate(-45)"><text x="-6.674" y="0" font-size="12">7</text></g>
<line x1="150.5" y1="613.4" x2="150.5" y2="618.20" stroke="#000" stroke-width="0.6"/>
<g transform="translate(153.400,625.700) rotate(-45)"><path class="g1" d="M-8.877,0.000L-9.932,0.000L-9.932,-6.621C-10.301,-6.270 -10.887,-5.906 -11.414,-5.637C-11.707,-5.490 -11.941,-5.391 -12.146,-5.320L-12.146,-6.328C-11.590,-6.551 -11.092,-6.867 -10.652,-7.254C-10.213,-7.641 -9.891,-7.969 -9.686,-8.256L-8.877,-8.256Z"/><text x="-6.674" y="0" font-size="12">0</text></g>
<line x1="219.2" y1="613.4" x2="219.2" y2="618.20" stroke="#000" stroke-width="0.6"/>
<g transform="translate(222.100,625.700) rotate(-45)"><text x="-13.348" y="0" font-size="12">22</text></g>
<circle cx="87.1" cy="545.2" r="2.35" fill="#067a3a"/>
<circle cx="98.8" cy="612.5" r="2.35" fill="#067a3a"/>
<circle cx="110.1" cy="609.9" r="2.35" fill="#067a3a"/>
<circle cx="133.1" cy="611.5" r="2.35" fill="#067a3a"/>
<circle cx="150.5" cy="612" r="2.35" fill="#067a3a"/>
<circle cx="219.2" cy="613" r="2.35" fill="#067a3a"/>
<rect x="84.75" y="607.15" width="4.7" height="4.7" fill="#000"/>
<rect x="96.45" y="609.15" width="4.7" height="4.7" fill="#000"/>
<rect x="107.75" y="610.15" width="4.7" height="4.7" fill="#000"/>
<rect x="130.75" y="610.65" width="4.7" height="4.7" fill="#000"/>
<rect x="148.15" y="610.85" width="4.7" height="4.7" fill="#000"/>
<rect x="216.85" y="610.85" width="4.7" height="4.7" fill="#000"/>
<path d="M79.34,514.50L79.34,512.05M79.34,514.50L81.68,513.74M79.34,514.50L80.79,516.48M79.34,514.50L77.90,516.48M79.34,514.50L77.01,513.74" stroke="#000" stroke-width="1.12" stroke-linecap="butt" fill="none"/>
<path d="M84.52,514.50L84.52,512.05M84.52,514.50L86.85,513.74M84.52,514.50L85.96,516.48M84.52,514.50L83.07,516.48M84.52,514.50L82.18,513.74" stroke="#000" stroke-width="1.12" stroke-linecap="butt" fill="none"/>
<path d="M89.69,514.50L89.69,512.05M89.69,514.50L92.02,513.74M89.69,514.50L91.13,516.48M89.69,514.50L88.24,516.48M89.69,514.50L87.35,513.74" stroke="#000" stroke-width="1.12" stroke-linecap="butt" fill="none"/>
<path d="M94.86,514.50L94.86,512.05M94.86,514.50L97.19,513.74M94.86,514.50L96.30,516.48M94.86,514.50L93.41,516.48M94.86,514.50L92.52,513.74" stroke="#000" stroke-width="1.12" stroke-linecap="butt" fill="none"/>
<line x1="301.00" y1="612.5" x2="306.00" y2="612.5" stroke="#3a3a96" stroke-width="1.2"/>
<path d="M317.60,514H322.40M320.0,514V557.7M317.60,557.7H322.40" stroke="#127e48" stroke-width="0.6" fill="none"/>
<path d="M320.0,536L331.2,610.5L342.1,610.5L364.7,610.5L381.3,613" fill="none" stroke="#127e48" stroke-width="0.85" stroke-linejoin="round"/>
<path d="M320.0,609.3L331.2,611.9L342.1,611.9L364.7,612.5L381.3,613" fill="none" stroke="#111" stroke-width="0.8" stroke-linejoin="round"/>
<line x1="292.4" y1="483.6" x2="292.4" y2="613.3" stroke="#000" stroke-width="0.6"/>
<line x1="292.4" y1="613.3" x2="450.1" y2="613.3" stroke="#000" stroke-width="0.6"/>
<line x1="287.90" y1="613.3" x2="292.4" y2="613.3" stroke="#000" stroke-width="0.6"/>
<g transform="translate(280.225,616.800) rotate(0.05)"><text x="0.000" y="0" font-size="12">0</text></g>
<line x1="287.90" y1="587.36" x2="292.4" y2="587.36" stroke="#000" stroke-width="0.6"/>
<g transform="translate(266.877,590.860) rotate(0.05)"><path class="g1" d="M4.471,0.000L3.416,0.000L3.416,-6.621C3.047,-6.270 2.461,-5.906 1.934,-5.637C1.641,-5.490 1.406,-5.391 1.201,-5.320L1.201,-6.328C1.758,-6.551 2.256,-6.867 2.695,-7.254C3.135,-7.641 3.457,-7.969 3.662,-8.256L4.471,-8.256Z"/><text x="6.674" y="0" font-size="12">00</text></g>
<line x1="287.90" y1="561.42" x2="292.4" y2="561.42" stroke="#000" stroke-width="0.6"/>
<g transform="translate(266.877,564.920) rotate(0.05)"><text x="0.000" y="0" font-size="12">200</text></g>
<line x1="287.90" y1="535.48" x2="292.4" y2="535.48" stroke="#000" stroke-width="0.6"/>
<g transform="translate(266.877,538.980) rotate(0.05)"><text x="0.000" y="0" font-size="12">300</text></g>
<line x1="287.90" y1="509.54" x2="292.4" y2="509.54" stroke="#000" stroke-width="0.6"/>
<g transform="translate(266.877,513.040) rotate(0.05)"><text x="0.000" y="0" font-size="12">400</text></g>
<line x1="287.90" y1="483.6" x2="292.4" y2="483.6" stroke="#000" stroke-width="0.6"/>
<g transform="translate(266.877,487.100) rotate(0.05)"><text x="0.000" y="0" font-size="12">500</text></g>
<line x1="303.5" y1="613.3" x2="303.5" y2="618.10" stroke="#000" stroke-width="0.6"/>
<g transform="translate(306.400,625.600) rotate(-45)"><text x="-31.348" y="0" font-size="12">Naïve</text></g>
<line x1="320.0" y1="613.3" x2="320.0" y2="618.10" stroke="#000" stroke-width="0.6"/>
<g transform="translate(322.900,625.600) rotate(-45)"><text x="-13.348" y="0" font-size="12">6h</text></g>
<line x1="331.2" y1="613.3" x2="331.2" y2="618.10" stroke="#000" stroke-width="0.6"/>
<g transform="translate(334.100,625.600) rotate(-45)"><path class="g1" d="M-2.203,0.000L-3.258,0.000L-3.258,-6.621C-3.627,-6.270 -4.213,-5.906 -4.740,-5.637C-5.033,-5.490 -5.268,-5.391 -5.473,-5.320L-5.473,-6.328C-4.916,-6.551 -4.418,-6.867 -3.979,-7.254C-3.539,-7.641 -3.217,-7.969 -3.012,-8.256L-2.203,-8.256Z"/></g>
<line x1="342.1" y1="613.3" x2="342.1" y2="618.10" stroke="#000" stroke-width="0.6"/>
<g transform="translate(345.000,625.600) rotate(-45)"><text x="-6.674" y="0" font-size="12">3</text></g>
<line x1="364.7" y1="613.3" x2="364.7" y2="618.10" stroke="#000" stroke-width="0.6"/>
<g transform="translate(367.600,625.600) rotate(-45)"><text x="-6.674" y="0" font-size="12">7</text></g>
<line x1="381.3" y1="613.3" x2="381.3" y2="618.10" stroke="#000" stroke-width="0.6"/>
<g transform="translate(384.200,625.600) rotate(-45)"><path class="g1" d="M-8.877,0.000L-9.932,0.000L-9.932,-6.621C-10.301,-6.270 -10.887,-5.906 -11.414,-5.637C-11.707,-5.490 -11.941,-5.391 -12.146,-5.320L-12.146,-6.328C-11.590,-6.551 -11.092,-6.867 -10.652,-7.254C-10.213,-7.641 -9.891,-7.969 -9.686,-8.256L-8.877,-8.256Z"/><text x="-6.674" y="0" font-size="12">0</text></g>
<line x1="447.9" y1="613.3" x2="447.9" y2="618.10" stroke="#000" stroke-width="0.6"/>
<g transform="translate(450.800,625.600) rotate(-45)"><text x="-13.348" y="0" font-size="12">22</text></g>
<circle cx="320.0" cy="536" r="2.35" fill="#067a3a"/>
<circle cx="331.2" cy="610.5" r="2.35" fill="#067a3a"/>
<circle cx="342.1" cy="610.5" r="2.35" fill="#067a3a"/>
<circle cx="364.7" cy="610.5" r="2.35" fill="#067a3a"/>
<circle cx="381.3" cy="613" r="2.35" fill="#067a3a"/>
<circle cx="447.9" cy="613" r="2.35" fill="#067a3a"/>
<rect x="317.65" y="606.95" width="4.7" height="4.7" fill="#000"/>
<rect x="328.85" y="609.55" width="4.7" height="4.7" fill="#000"/>
<rect x="339.75" y="609.55" width="4.7" height="4.7" fill="#000"/>
<rect x="362.35" y="610.15" width="4.7" height="4.7" fill="#000"/>
<rect x="378.95" y="610.65" width="4.7" height="4.7" fill="#000"/>
<rect x="445.55" y="610.65" width="4.7" height="4.7" fill="#000"/>
<path d="M312.25,490.50L312.25,488.05M312.25,490.50L314.58,489.74M312.25,490.50L313.69,492.48M312.25,490.50L310.80,492.48M312.25,490.50L309.91,489.74" stroke="#000" stroke-width="1.12" stroke-linecap="butt" fill="none"/>
<path d="M317.42,490.50L317.42,488.05M317.42,490.50L319.75,489.74M317.42,490.50L318.86,492.48M317.42,490.50L315.97,492.48M317.42,490.50L315.08,489.74" stroke="#000" stroke-width="1.12" stroke-linecap="butt" fill="none"/>
<path d="M322.58,490.50L322.58,488.05M322.58,490.50L324.92,489.74M322.58,490.50L324.03,492.48M322.58,490.50L321.14,492.48M322.58,490.50L320.25,489.74" stroke="#000" stroke-width="1.12" stroke-linecap="butt" fill="none"/>
<path d="M327.75,490.50L327.75,488.05M327.75,490.50L330.09,489.74M327.75,490.50L329.20,492.48M327.75,490.50L326.31,492.48M327.75,490.50L325.42,489.74" stroke="#000" stroke-width="1.12" stroke-linecap="butt" fill="none"/>
<line x1="527.90" y1="609.5" x2="532.90" y2="609.5" stroke="#3a3a96" stroke-width="1.2"/>
<path d="M545.50,520.2H550.30M547.9,520.2V557.1M545.50,557.1H550.30" stroke="#127e48" stroke-width="0.6" fill="none"/>
<path d="M557.00,564.7H561.80M559.4,564.7V593.5M557.00,593.5H561.80" stroke="#127e48" stroke-width="0.6" fill="none"/>
<path d="M568.70,586.5H573.50M571.1,586.5V596.7M568.70,596.7H573.50" stroke="#127e48" stroke-width="0.6" fill="none"/>
<path d="M591.90,601.5H596.70M594.3,601.5V607.5M591.90,607.5H596.70" stroke="#127e48" stroke-width="0.6" fill="none"/>
<path d="M547.9,538.8L559.4,579.1L571.1,592L594.3,604.7L611.7,613.5L681.5,611.5" fill="none" stroke="#127e48" stroke-width="0.85" stroke-linejoin="round"/>
<path d="M545.50,591.6H550.30M547.9,591.6V598.2M545.50,598.2H550.30" stroke="#333" stroke-width="0.6" fill="none"/>
<path d="M557.00,596H561.80M559.4,596V601.5M557.00,601.5H561.80" stroke="#333" stroke-width="0.6" fill="none"/>
<path d="M547.9,594.7L559.4,598.8L571.1,605.4L594.3,610.9L611.7,613.2L681.5,611" fill="none" stroke="#111" stroke-width="0.8" stroke-linejoin="round"/>
<line x1="519.0" y1="483.2" x2="519.0" y2="613.6" stroke="#000" stroke-width="0.6"/>
<line x1="519.0" y1="613.6" x2="685.0" y2="613.6" stroke="#000" stroke-width="0.6"/>
<line x1="514.50" y1="613.6" x2="519.0" y2="613.6" stroke="#000" stroke-width="0.6"/>
<g transform="translate(506.685,617.440) rotate(0.05)"><text x="0.000" y="0" font-size="12">0</text></g>
<line x1="514.50" y1="581.0" x2="519.0" y2="581.0" stroke="#000" stroke-width="0.6"/>
<g transform="translate(500.011,584.840) rotate(0.05)"><text x="0.000" y="0" font-size="12">20</text></g>
<line x1="514.50" y1="548.4" x2="519.0" y2="548.4" stroke="#000" stroke-width="0.6"/>
<g transform="translate(500.011,552.240) rotate(0.05)"><text x="0.000" y="0" font-size="12">40</text></g>
<line x1="514.50" y1="515.8" x2="519.0" y2="515.8" stroke="#000" stroke-width="0.6"/>
<g transform="translate(500.011,519.640) rotate(0.05)"><text x="0.000" y="0" font-size="12">60</text></g>
<line x1="514.50" y1="483.2" x2="519.0" y2="483.2" stroke="#000" stroke-width="0.6"/>
<g transform="translate(500.011,487.040) rotate(0.05)"><text x="0.000" y="0" font-size="12">80</text></g>
<line x1="530.4" y1="613.6" x2="530.4" y2="618.40" stroke="#000" stroke-width="0.6"/>
<g transform="translate(533.300,625.900) rotate(-45)"><text x="-31.348" y="0" font-size="12">Naïve</text></g>
<line x1="547.9" y1="613.6" x2="547.9" y2="618.40" stroke="#000" stroke-width="0.6"/>
<g transform="translate(550.800,625.900) rotate(-45)"><text x="-13.348" y="0" font-size="12">6h</text></g>
<line x1="559.4" y1="613.6" x2="559.4" y2="618.40" stroke="#000" stroke-width="0.6"/>
<g transform="translate(562.300,625.900) rotate(-45)"><path class="g1" d="M-2.203,0.000L-3.258,0.000L-3.258,-6.621C-3.627,-6.270 -4.213,-5.906 -4.740,-5.637C-5.033,-5.490 -5.268,-5.391 -5.473,-5.320L-5.473,-6.328C-4.916,-6.551 -4.418,-6.867 -3.979,-7.254C-3.539,-7.641 -3.217,-7.969 -3.012,-8.256L-2.203,-8.256Z"/></g>
<line x1="571.1" y1="613.6" x2="571.1" y2="618.40" stroke="#000" stroke-width="0.6"/>
<g transform="translate(574.000,625.900) rotate(-45)"><text x="-6.674" y="0" font-size="12">3</text></g>
<line x1="594.3" y1="613.6" x2="594.3" y2="618.40" stroke="#000" stroke-width="0.6"/>
<g transform="translate(597.200,625.900) rotate(-45)"><text x="-6.674" y="0" font-size="12">7</text></g>
<line x1="611.7" y1="613.6" x2="611.7" y2="618.40" stroke="#000" stroke-width="0.6"/>
<g transform="translate(614.600,625.900) rotate(-45)"><path class="g1" d="M-8.877,0.000L-9.932,0.000L-9.932,-6.621C-10.301,-6.270 -10.887,-5.906 -11.414,-5.637C-11.707,-5.490 -11.941,-5.391 -12.146,-5.320L-12.146,-6.328C-11.590,-6.551 -11.092,-6.867 -10.652,-7.254C-10.213,-7.641 -9.891,-7.969 -9.686,-8.256L-8.877,-8.256Z"/><text x="-6.674" y="0" font-size="12">0</text></g>
<line x1="681.5" y1="613.6" x2="681.5" y2="618.40" stroke="#000" stroke-width="0.6"/>
<g transform="translate(684.400,625.900) rotate(-45)"><text x="-13.348" y="0" font-size="12">22</text></g>
<circle cx="547.9" cy="538.8" r="2.35" fill="#067a3a"/>
<circle cx="559.4" cy="579.1" r="2.35" fill="#067a3a"/>
<circle cx="571.1" cy="592" r="2.35" fill="#067a3a"/>
<circle cx="594.3" cy="604.7" r="2.35" fill="#067a3a"/>
<circle cx="611.7" cy="613.5" r="2.35" fill="#067a3a"/>
<circle cx="681.5" cy="611.5" r="2.35" fill="#067a3a"/>
<rect x="545.55" y="592.35" width="4.7" height="4.7" fill="#000"/>
<rect x="557.05" y="596.45" width="4.7" height="4.7" fill="#000"/>
<rect x="568.75" y="603.05" width="4.7" height="4.7" fill="#000"/>
<rect x="591.95" y="608.55" width="4.7" height="4.7" fill="#000"/>
<rect x="609.35" y="610.85" width="4.7" height="4.7" fill="#000"/>
<rect x="679.15" y="608.65" width="4.7" height="4.7" fill="#000"/>
<path d="M542.73,500.50L542.73,498.05M542.73,500.50L545.06,499.74M542.73,500.50L544.17,502.48M542.73,500.50L541.29,502.48M542.73,500.50L540.40,499.74" stroke="#000" stroke-width="1.12" stroke-linecap="butt" fill="none"/>
<path d="M547.90,500.50L547.90,498.05M547.90,500.50L550.23,499.74M547.90,500.50L549.34,502.48M547.90,500.50L546.46,502.48M547.90,500.50L545.57,499.74" stroke="#000" stroke-width="1.12" stroke-linecap="butt" fill="none"/>
<path d="M553.07,500.50L553.07,498.05M553.07,500.50L555.40,499.74M553.07,500.50L554.51,502.48M553.07,500.50L551.63,502.48M553.07,500.50L550.74,499.74" stroke="#000" stroke-width="1.12" stroke-linecap="butt" fill="none"/>
<g transform="translate(255.80,16.60) scale(1,1) rotate(0.05)"><text x="-1.52" y="0" font-size="23" font-weight="bold">b</text></g>
<g transform="translate(469.20,16.75) scale(1,1.04) rotate(0.05)"><text x="-0.90" y="0" font-size="23" font-weight="bold">c</text></g>
<g transform="translate(35.40,238.60) scale(1,1) rotate(0.05)"><text x="-0.94" y="0" font-size="23" font-weight="bold">d</text></g>
<g transform="translate(254.90,229.75) scale(1,1.04) rotate(0.05)"><text x="-0.90" y="0" font-size="23" font-weight="bold">e</text></g>
<g transform="translate(449.10,229.00) scale(1,1) rotate(0.05)"><text x="-0.39" y="0" font-size="23" font-weight="bold">f</text></g>
<g transform="translate(15.10,437.80) scale(1,1) rotate(0.05)"><text x="-0.94" y="0" font-size="23" font-weight="bold">g</text></g>
<g transform="translate(255.60,458.60) scale(1,1) rotate(0.05)"><text x="-1.61" y="0" font-size="23" font-weight="bold">h</text></g>
<g transform="translate(450.80,458.60) scale(1,1) rotate(0.05)"><text x="-1.61" y="0" font-size="23" font-weight="bold">i</text></g>
<g transform="translate(27.1,13.95) scale(0.91,1.05) rotate(0.05)"><text x="-0.67" y="0" font-size="23" font-weight="bold">a</text></g>
<g transform="translate(133.700,25.900) rotate(0.05)"><text x="-20.508" y="0" font-size="16">CCL3</text></g>
<g transform="translate(369.500,25.600) rotate(0.05)"><text x="-23.246" y="0" font-size="16">CCL</text><path class="g1" d="M14.723,0.000L13.316,0.000L13.316,-8.828C12.824,-8.359 12.043,-7.875 11.340,-7.516C10.949,-7.320 10.637,-7.188 10.363,-7.094L10.363,-8.438C11.105,-8.734 11.770,-9.156 12.355,-9.672C12.941,-10.188 13.371,-10.625 13.645,-11.008L14.723,-11.008Z"/><path class="g1" d="M22.434,0.000L21.027,0.000L21.027,-8.828C20.535,-8.359 19.754,-7.875 19.051,-7.516C18.660,-7.320 18.348,-7.188 18.074,-7.094L18.074,-8.438C18.816,-8.734 19.480,-9.156 20.066,-9.672C20.652,-10.188 21.082,-10.625 21.355,-11.008L22.434,-11.008Z"/></g>
<g transform="translate(598.650,25.600) rotate(0.05)"><text x="-24.906" y="0" font-size="16">CCL</text><path class="g1" d="M13.062,0.000L11.656,0.000L11.656,-8.828C11.164,-8.359 10.383,-7.875 9.680,-7.516C9.289,-7.320 8.977,-7.188 8.703,-7.094L8.703,-8.438C9.445,-8.734 10.109,-9.156 10.695,-9.672C11.281,-10.188 11.711,-10.625 11.984,-11.008L13.062,-11.008Z"/><text x="16.000" y="0" font-size="16">7</text></g>
<g transform="translate(133.650,245.450) rotate(0.05)"><text x="-24.996" y="0" font-size="16">CCL20</text></g>
<g transform="translate(370.050,244.750) rotate(0.05)"><text x="-24.906" y="0" font-size="16">CCL22</text></g>
<g transform="translate(598.750,251.050) rotate(0.05)"><text x="-24.969" y="0" font-size="16">G-CSF</text></g>
<g transform="translate(133.700,454.300) rotate(0.05)"><text x="-31.633" y="0" font-size="16">GM-CSF</text></g>
<g transform="translate(366.850,454.450) rotate(0.05)"><text x="-14.172" y="0" font-size="16">IL-6</text></g>
<g transform="translate(598.850,454.400) rotate(0.05)"><text x="-15.410" y="0" font-size="16">TNF</text></g>
<g transform="translate(133.000,679.100) rotate(0.05)"><text x="-62.850" y="0" font-size="12.9">Days post vaccination</text></g>
<g transform="translate(369.000,679.100) rotate(0.05)"><text x="-62.850" y="0" font-size="12.9">Days post vaccination</text></g>
<g transform="translate(599.000,679.100) rotate(0.05)"><text x="-62.850" y="0" font-size="12.9">Days post vaccination</text></g>
<g transform="translate(14.100,110.000) rotate(-89.95)"><text x="-22.063" y="0" font-size="15.7">pg/mL</text></g>
<g transform="translate(11.900,319.800) rotate(-89.95)"><text x="-22.063" y="0" font-size="15.7">pg/mL</text></g>
<g transform="translate(11.900,540.500) rotate(-89.95)"><text x="-22.063" y="0" font-size="15.7">pg/mL</text></g>
</svg></body></html>
